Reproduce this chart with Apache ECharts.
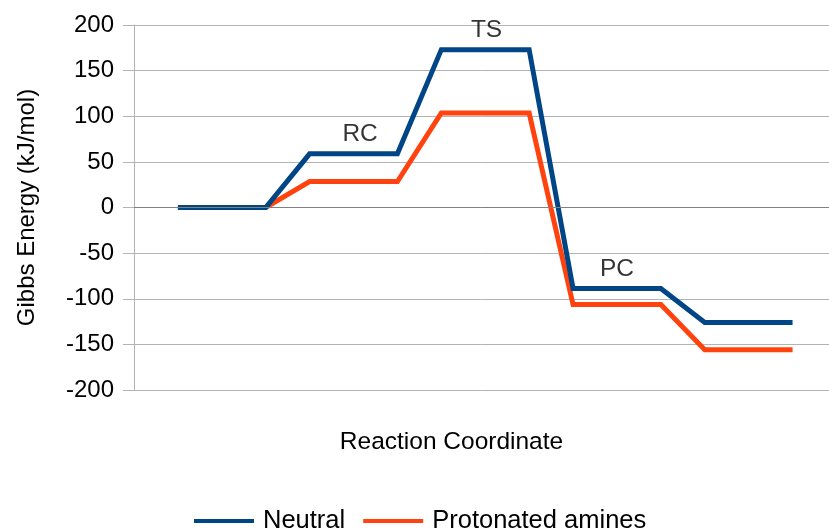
<!DOCTYPE html>
<html>
<head>
<meta charset="utf-8">
<script src="https://cdn.jsdelivr.net/npm/echarts@6/dist/echarts.min.js"></script>
<style>
html,body{margin:0;padding:0;background:#fff;}
#chart{width:829px;height:529px;}
</style>
</head>
<body>
<div id="chart"></div>
<script>
// Data
var stepX = [0, 2, 3, 5, 6, 8, 9, 11, 12, 14];
var neutral = [0, 0, 58.8, 58.8, 173, 173, -88.8, -88.8, -126, -126];
var protonated = [0, 0, 28.5, 28.5, 103.6, 103.6, -106.3, -106.3, -155.8, -155.8];
var seriesNames = ['Neutral', 'Protonated amines'];
var stateNames = ['RC', 'TS', 'PC'];
var stateX = [4.15, 7.03, 10.0];
var stateY = [58.8, 173, -88.8];
var yTicks = [-200, -150, -100, -50, 0, 50, 100, 150, 200];

function pairs(xs, ys) { return xs.map(function (x, i) { return [x, ys[i]]; }); }

var chart = echarts.init(document.getElementById('chart'), null, {renderer: 'canvas'});
var font = 'Liberation Sans, Arial, sans-serif';
chart.setOption({
  animation: false,
  backgroundColor: '#ffffff',
  textStyle: {fontFamily: font},
  grid: {left: 134, top: 25, width: 695, height: 365, containLabel: false},
  legend: {
    data: seriesNames,
    top: 508,
    left: 194,
    padding: 0,
    icon: 'rect',
    itemWidth: 60,
    itemHeight: 4,
    itemGap: 18,
    textStyle: {fontSize: 25.5, color: '#000', fontFamily: font, padding: [0, 0, 0, 4]}
  },
  xAxis: {
    type: 'value',
    min: -1,
    max: 14.83,
    name: 'Reaction Coordinate',
    nameLocation: 'middle',
    nameGap: 40,
    nameTextStyle: {fontSize: 24.5, color: '#000', fontFamily: font, padding: [0, 60, 0, 0]},
    axisLine: {show: false},
    axisTick: {show: false},
    axisLabel: {show: false},
    splitLine: {show: false}
  },
  yAxis: {
    type: 'value',
    min: yTicks[0],
    max: yTicks[yTicks.length - 1],
    interval: 50,
    name: 'Gibbs Energy (kJ/mol)',
    nameLocation: 'middle',
    nameGap: 95,
    nameTextStyle: {fontSize: 24, color: '#000', fontFamily: font},
    axisLine: {show: true, onZero: false, lineStyle: {color: '#b3b3b3', width: 1}},
    axisTick: {show: true, length: 11, lineStyle: {color: '#b3b3b3', width: 1}},
    axisLabel: {fontSize: 24, color: '#000', margin: 20, fontFamily: font},
    splitLine: {show: true, lineStyle: {color: '#b3b3b3', width: 1}}
  },
  series: [
    {
      type: 'line',
      name: '_zero',
      data: [],
      silent: true,
      z: 1,
      markLine: {
        silent: true,
        symbol: ['none', 'none'],
        label: {show: false},
        lineStyle: {color: '#808080', width: 1, type: 'solid'},
        data: [{yAxis: 0}]
      }
    },
    {
      type: 'line',
      name: seriesNames[1],
      data: pairs(stepX, protonated),
      showSymbol: false,
      symbol: 'none',
      z: 2,
      lineStyle: {color: '#ff420e', width: 5, join: 'miter'},
      itemStyle: {color: '#ff420e'}
    },
    {
      type: 'line',
      name: seriesNames[0],
      data: pairs(stepX, neutral),
      showSymbol: false,
      symbol: 'none',
      z: 3,
      lineStyle: {color: '#004586', width: 5, join: 'miter'},
      itemStyle: {color: '#004586'}
    },
    {
      type: 'scatter',
      name: '_labels',
      symbolSize: 0,
      z: 4,
      silent: true,
      data: stateNames.map(function (n, i) { return {value: [stateX[i], stateY[i]], name: n}; }),
      label: {
        show: true,
        position: 'top',
        distance: 7,
        formatter: '{b}',
        fontSize: 24.5,
        color: '#000',
        fontFamily: font
      }
    }
  ]
});
</script>
</body>
</html>
